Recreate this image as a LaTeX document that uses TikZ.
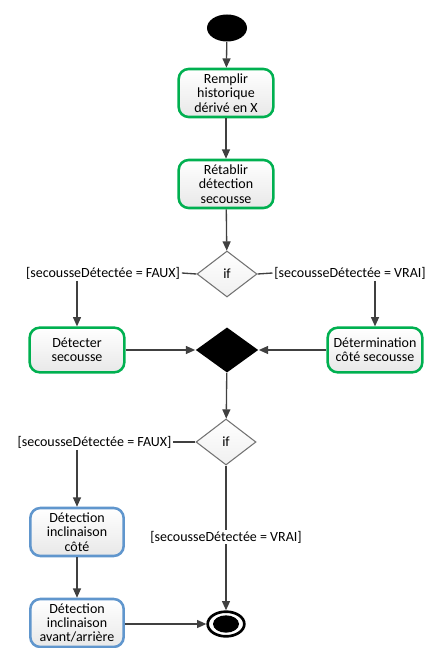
\documentclass[tikz,border=0pt]{standalone}
\usepackage{fontspec}
\setmainfont{Carlito}
\usetikzlibrary{arrows.meta,shapes.geometric}

\definecolor{actgreen}{RGB}{0,176,80}
\definecolor{actblue}{RGB}{96,150,205}
\definecolor{flowgray}{RGB}{64,64,64}

\tikzset{every picture/.style={line width=0.75pt}}
\tikzset{
  actbox/.style={rectangle, rounded corners=7.5pt, draw=actgreen, line width=1.9pt,
    top color=white, bottom color=black!9, minimum width=71pt, minimum height=36pt,
    align=center, inner sep=1pt, font=\fontsize{10.5}{10.8}\selectfont},
  actboxb/.style={actbox, draw=actblue},
  ifnode/.style={diamond, draw=black!55, line width=0.8pt, top color=white, bottom color=black!6,
    minimum width=45pt, minimum height=34.5pt, inner sep=0pt, font=\fontsize{10.5}{12}\selectfont},
  mergenode/.style={diamond, fill=black, minimum width=47pt, minimum height=34pt, inner sep=0pt},
  guard/.style={inner sep=1pt, font=\fontsize{10.5}{12}\selectfont},
  flow/.style={draw=flowgray, line width=1pt, -{Triangle[length=7pt,width=6pt]}},
  plain/.style={draw=flowgray, line width=1pt}
}

\begin{document}
\begin{tikzpicture}[x=0.75pt,y=0.75pt,yscale=-1,xscale=1]
	\useasboundingbox (0,0) rectangle (430,648);

	% Start and end
	\node [ellipse, fill=black, minimum width=30pt, minimum height=20.25pt, inner sep=0pt] (start) at (227,28) {};
	\node [ellipse, draw=black, line width=2pt, fill=white, minimum width=27.5pt, minimum height=18.5pt, inner sep=0pt] (endc) at (226,624) {};
	\node [ellipse, fill=black, minimum width=19.5pt, minimum height=13pt, inner sep=0pt] (endin) at (226,624) {};

	% Actions
	\node [actbox] (remplir) at (226,93) {Remplir\\historique\\dérivé en X};
	\node [actbox] (retablir) at (226,184) {Rétablir\\détection\\secousse};
	\node [actbox, minimum height=33.5pt] (detecter) at (77,350) {Détecter\\secousse};
	\node [actbox, minimum height=33.5pt] (determ) at (375,350) {Détermination\\côté secousse};
	\node [actboxb, minimum width=70pt] (inclcote) at (77,532) {Détection\\inclinaison\\côté};
	\node [actboxb, minimum width=70pt] (inclav) at (77,623) {Détection\\inclinaison\\avant/arrière};

	% Decisions
	\node [ifnode] (ifa) at (227,274) {if};
	\node [mergenode] (merge) at (227,350) {};
	\node [ifnode] (ifb) at (226,442) {if};

	% Guards
	\node [guard] (faux1) at (103,273) {[secousseDétectée = FAUX]};
	\node [guard] (vrai1) at (350,273) {[secousseDétectée = VRAI]};
	\node [guard] (faux2) at (94.5,442) {[secousseDétectée = FAUX]};

	% Flows
	\draw [flow] (start) -- (remplir);
	\draw [flow] (remplir) -- (retablir);
	\draw [flow] (retablir) -- (ifa);
	\draw [plain] (ifa.west) -- (faux1.east);
	\draw [plain] (ifa.east) -- (vrai1.west);
	\draw [flow] (faux1.south -| detecter.north) -- (detecter.north);
	\draw [flow] (vrai1.south -| determ.north) -- (determ.north);
	\draw [flow] (detecter) -- (merge);
	\draw [flow] (determ) -- (merge);
	\draw [flow] (merge) -- (ifb);
	\draw [plain] (ifb.west) -- (faux2.east);
	\draw [flow] (faux2.south -| inclcote.north) -- (inclcote.north);
	\draw [flow] (inclcote) -- (inclav);
	\draw [flow] (inclav.east |- endc.west) -- (endc.west);
	\draw [flow] (ifb) -- (endc);

	\node [guard, fill=white] (vrai2) at (226,537) {[secousseDétectée = VRAI]};

\end{tikzpicture}
\end{document}
